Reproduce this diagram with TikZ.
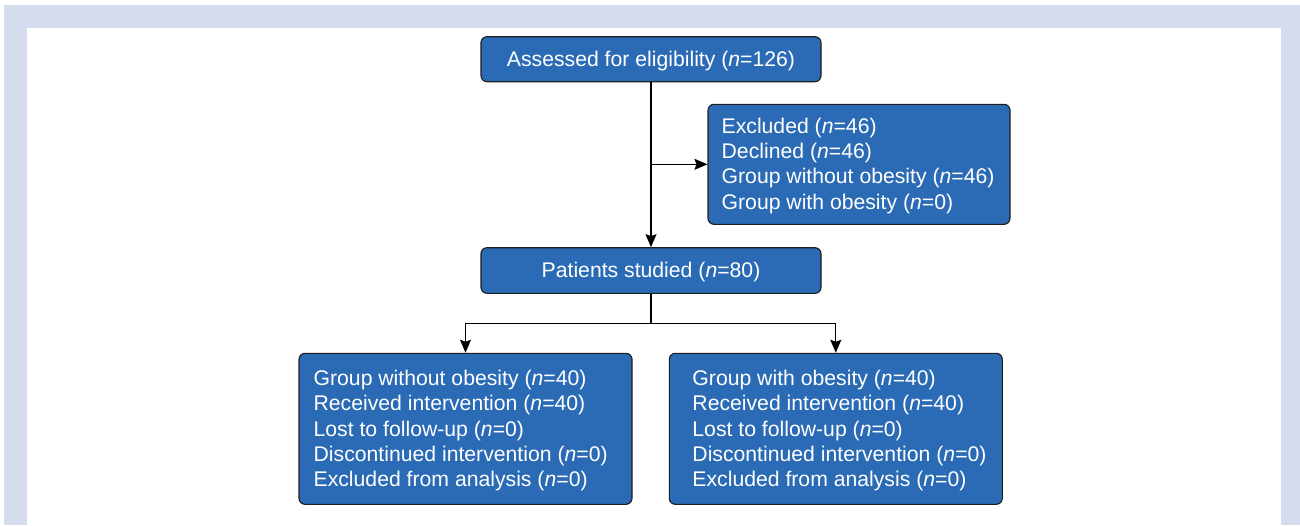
\documentclass[tikz,border=0pt]{standalone}
\usepackage{fontspec}
\setmainfont{Liberation Sans}
\usetikzlibrary{arrows.meta}
\definecolor{framebg}{HTML}{D4DCEE}
\definecolor{boxblue}{HTML}{2B6BB5}
\definecolor{boxline}{HTML}{1E1E1E}
\tikzset{
  box/.style={draw=boxline, fill=boxblue, line width=1.1pt, rounded corners=6pt, inner sep=0pt},
  txt/.style={text=white, font=\fontsize{21.2}{25.3}\selectfont, inner sep=0pt, align=left},
  conn/.style={draw=black, line width=1.2pt},
  arr/.style={conn, -{Stealth[length=13pt,width=11pt,inset=2pt]}}
}
\begin{document}
\begin{tikzpicture}[x=1pt,y=-1pt]
\useasboundingbox (0,0) rectangle (1300,525);
\fill[framebg] (4,5) rectangle (1300,525);
\fill[white] (27,28) rectangle (1281,525);

\node[box, minimum width=340pt, minimum height=45pt] (a) at (651,59.2) {};
\node[txt] (at) at ([yshift=-1.5pt]a.center) {Assessed for eligibility (\textit{n}=126)};

\node[box, minimum width=302pt, minimum height=120pt] (ex) at (859,164.3) {};
\node[txt, anchor=west] (ext) at ([xshift=14pt,yshift=-1.5pt]ex.west) {Excluded (\textit{n}=46)\\Declined (\textit{n}=46)\\Group without obesity (\textit{n}=46)\\Group with obesity (\textit{n}=0)};

\node[box, minimum width=340pt, minimum height=45.6pt] (p) at (651,270.5) {};
\node[txt] (pt) at ([yshift=-1.5pt]p.center) {Patients studied (\textit{n}=80)};

\node[box, minimum width=333pt, minimum height=151pt] (g1) at (465.5,428.8) {};
\node[txt, anchor=west] (g1t) at ([xshift=15pt,yshift=-1.8pt]g1.west) {Group without obesity (\textit{n}=40)\\Received intervention (\textit{n}=40)\\Lost to follow-up (\textit{n}=0)\\Discontinued intervention (\textit{n}=0)\\Excluded from analysis (\textit{n}=0)};

\node[box, minimum width=333pt, minimum height=151pt] (g2) at (835.8,428.8) {};
\node[txt, anchor=west] (g2t) at ([xshift=23.5pt,yshift=-1.8pt]g2.west) {Group with obesity (\textit{n}=40)\\Received intervention (\textit{n}=40)\\Lost to follow-up (\textit{n}=0)\\Discontinued intervention (\textit{n}=0)\\Excluded from analysis (\textit{n}=0)};

\draw[arr] (a.south) -- (p.north);
\coordinate (split) at (a.south |- ex.west);
\draw[arr] (split) -- (ex.west);
\coordinate (branch) at (651,323.3);
\draw[conn] (p.south) -- (branch);
\draw[arr] (branch) -| (g1.north);
\draw[arr] (branch) -| (g2.north);
\end{tikzpicture}
\end{document}
